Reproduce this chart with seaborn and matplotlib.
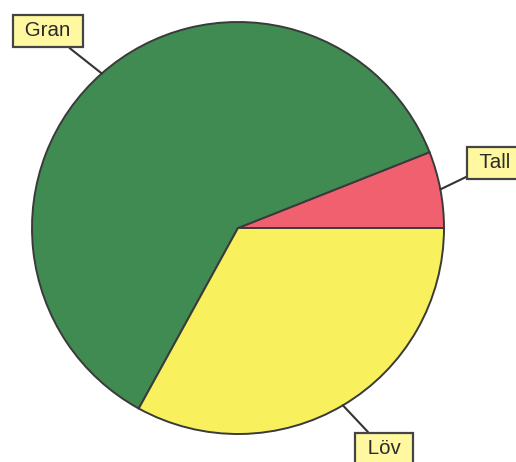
import numpy as np
import matplotlib
matplotlib.use("Agg")
import matplotlib.pyplot as plt
import seaborn as sns

# Tree species share (percent)
species = ["Tall", "Gran", "Löv"]
shares = [6, 61, 33]
colors = ["#f0606e", "#3f8b52", "#f8f05c"]

sns.set_theme(style="white")
plt.rcParams["font.family"] = ["Liberation Sans", "DejaVu Sans"]

W, H = 516, 462
fig = plt.figure(figsize=(W / 100, H / 100), dpi=100)
ax = fig.add_axes([0, 0, 1, 1])

cx, cy, r = 238, H - 228, 206
wedges, _ = ax.pie(
    shares, colors=colors, startangle=0, counterclock=True,
    center=(cx, cy), radius=r,
    wedgeprops={"edgecolor": "#3a3a3a", "linewidth": 1.4},
    frame=True,
)
ax.set_xlim(0, W)
ax.set_ylim(0, H)
ax.set_aspect("equal")
ax.axis("off")

# label box positions (pixels, top-left origin)
label_pos = {"Gran": (48, 31), "Tall": (495, 163), "Löv": (384, 449)}

for w, name in zip(wedges, species):
    mid = np.deg2rad((w.theta1 + w.theta2) / 2)
    px, py = cx + r * np.cos(mid), cy + r * np.sin(mid)
    tx, ty = label_pos[name]
    ax.annotate(
        f" {name} ", xy=(px, py), xytext=(tx, H - ty),
        ha="center", va="center", fontsize=14.8, color="#2b2b2b",
        bbox=dict(boxstyle="square,pad=0.33", fc="#fff8a0", ec="#444444", lw=1.6),
        arrowprops=dict(arrowstyle="-", color="#333333", lw=1.5,
                        shrinkA=0, shrinkB=0),
    )

fig.savefig("out.png", dpi=100)
